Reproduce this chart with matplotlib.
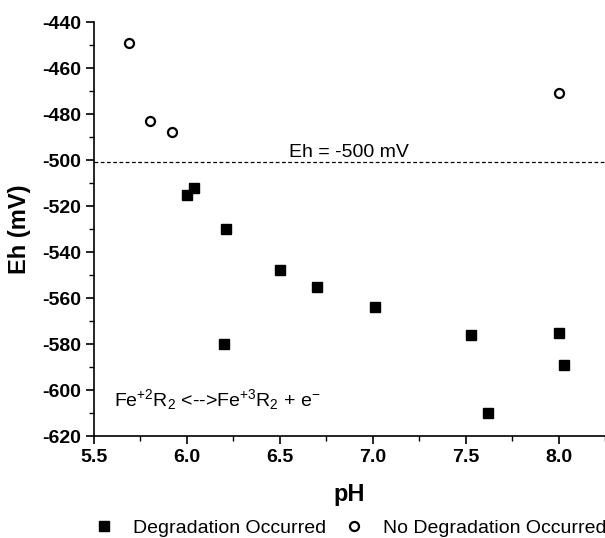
import matplotlib
matplotlib.use("Agg")
import matplotlib.pyplot as plt
from matplotlib.ticker import MultipleLocator

plt.rcParams['font.family'] = ['Liberation Sans', 'DejaVu Sans']
plt.rcParams['mathtext.fontset'] = 'custom'
plt.rcParams['mathtext.rm'] = 'Liberation Sans'
plt.rcParams['mathtext.it'] = 'Liberation Sans:italic'
plt.rcParams['mathtext.bf'] = 'Liberation Sans:bold'

deg_ph = [6.00, 6.04, 6.21, 6.20, 6.50, 6.70, 7.01, 7.53, 7.62, 8.00, 8.03]
deg_eh = [-515, -512, -530, -580, -548, -555, -564, -576, -610, -575, -589]
nodeg_ph = [5.69, 5.80, 5.92, 8.00]
nodeg_eh = [-449, -483, -488, -471]
threshold = -501
xticks = [5.5, 6.0, 6.5, 7.0, 7.5, 8.0]
yticks = [-440, -460, -480, -500, -520, -540, -560, -580, -600, -620]

fig = plt.figure(figsize=(6.05, 5.38), dpi=100)
ax = fig.add_axes([94/605, 1-436/538, 1-94/605, (436-22)/538])

ax.plot(deg_ph, deg_eh, linestyle='none', marker='s', markersize=6.8,
        color='black', label='Degradation Occurred')
ax.plot(nodeg_ph, nodeg_eh, linestyle='none', marker='o', markersize=6.5,
        markerfacecolor='white', markeredgecolor='black', markeredgewidth=1.6,
        label='No Degradation Occurred')
ax.axhline(threshold, color='black', linestyle=(0, (3, 2)), linewidth=0.9)

ax.text(6.55, -498.5, 'Eh = -500 mV', fontsize=14, ha='left', va='baseline')
ax.text(5.61, -604, r'Fe$^{\mathrm{+2}}$R$_{\mathrm{2}}$ <-->Fe$^{\mathrm{+3}}$R$_{\mathrm{2}}$ + e$^{\mathrm{-}}$',
        fontsize=14, ha='left', va='center')

ax.set_xlim(5.5, 8.25)
ax.set_ylim(-620, -440)
ax.set_xticks(xticks)
ax.set_xticklabels([f'{v:.1f}' for v in xticks])
ax.set_yticks(yticks)
ax.set_yticklabels([str(v) for v in yticks])
ax.xaxis.set_minor_locator(MultipleLocator(0.25))
ax.yaxis.set_minor_locator(MultipleLocator(10))
ax.tick_params(which='major', direction='out', length=6, width=1.2, labelsize=14)
ax.tick_params(which='minor', direction='out', length=3.5, width=1.0)
for lab in ax.get_xticklabels() + ax.get_yticklabels():
    lab.set_fontweight('bold')
ax.spines['top'].set_visible(False)
ax.spines['right'].set_visible(False)
ax.spines['left'].set_linewidth(1.2)
ax.spines['bottom'].set_linewidth(1.2)

ax.set_xlabel('pH', fontsize=17, fontweight='bold', labelpad=12)
ax.set_ylabel('Eh (mV)', fontsize=17, fontweight='bold', labelpad=8)

fig.legend(loc='center left', bbox_to_anchor=(94/605, 1-528/538), ncol=2, frameon=False,
           fontsize=14, handlelength=1.0, handletextpad=1.0, columnspacing=0.95,
           borderpad=0, borderaxespad=0)

fig.savefig('out.png', dpi=100)
